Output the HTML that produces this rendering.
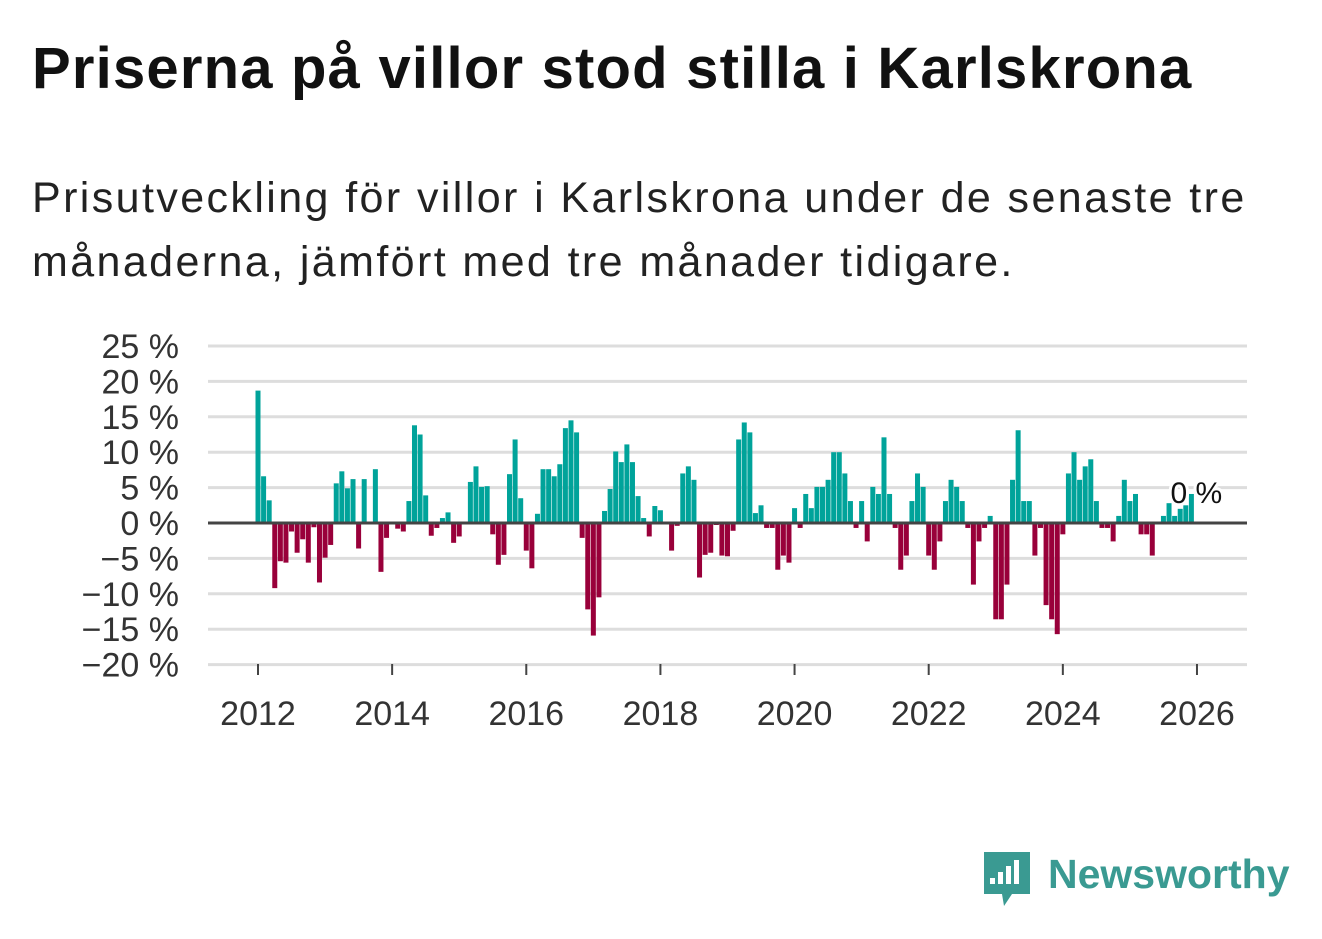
<!DOCTYPE html>
<html><head><meta charset="utf-8"><style>
body{margin:0;background:#fff;width:1322px;height:939px;overflow:hidden;font-family:"Liberation Sans",sans-serif}
#title{position:absolute;left:32px;top:40px;font-size:58px;line-height:58px;font-weight:bold;color:#111;margin:0;letter-spacing:1.2px;white-space:nowrap}
#sub{position:absolute;left:32px;top:166px;font-size:43px;line-height:64px;color:#222;margin:0;letter-spacing:2.4px;white-space:nowrap}
svg{position:absolute;left:0;top:0}
</style></head><body>
<h1 id="title">Priserna på villor stod stilla i Karlskrona</h1>
<p id="sub">Prisutveckling för villor i Karlskrona under de senaste tre<br>månaderna, jämfört med tre månader tidigare.</p>
<svg id="chart" width="1322" height="939"></svg>
<script>
const startYear = 2012;
const values = [18.7,6.6,3.2,-9.2,-5.4,-5.6,-1.2,-4.2,-2.3,-5.6,-0.6,-8.4,-4.9,-3.1,5.6,7.3,4.9,6.2,-3.6,6.2,0,7.6,-6.9,-2.1,
0,-0.8,-1.2,3.1,13.8,12.5,3.9,-1.8,-0.7,0.7,1.5,-2.8,-1.9,0,5.8,8.0,5.1,5.2,-1.6,-5.9,-4.5,6.9,11.8,3.5,
-3.9,-6.4,1.3,7.6,7.6,6.6,8.3,13.4,14.5,12.8,-2.1,-12.2,-15.9,-10.5,1.7,4.8,10.1,8.6,11.1,8.6,3.8,0.7,-1.9,2.4,
1.8,0,-3.9,-0.4,7.0,8.0,6.1,-7.7,-4.5,-4.2,-0.1,-4.6,-4.7,-1.1,11.8,14.2,12.8,1.4,2.5,-0.7,-0.7,-6.6,-4.6,-5.6,
2.1,-0.7,4.1,2.1,5.1,5.1,6.1,10.0,10.0,7.0,3.1,-0.7,3.1,-2.6,5.1,4.1,12.1,4.1,-0.7,-6.6,-4.6,3.1,7.0,5.1,
-4.6,-6.6,-2.6,3.1,6.1,5.1,3.1,-0.7,-8.7,-2.6,-0.7,1.0,-13.6,-13.6,-8.7,6.1,13.1,3.1,3.1,-4.6,-0.7,-11.6,-13.6,-15.7,
-1.6,7.0,10.0,6.1,8.0,9.0,3.1,-0.7,-0.7,-2.6,1.0,6.1,3.1,4.1,-1.6,-1.6,-4.6,0,1.0,2.8,1.0,2.0,2.5,4.1];
const yTicks = [25,20,15,10,5,0,-5,-10,-15,-20];
const xTicks = [2012,2014,2016,2018,2020,2022,2024,2026];
const lastLabel = "0 %";

const NS="http://www.w3.org/2000/svg";
const svg=document.getElementById('chart');
const X0=258, PX_YEAR=67.07, Y0=523, PX_PCT=7.08, L=208, R=1247;
function xs(monthIndex){return X0+monthIndex*PX_YEAR/12;}
function xy(year){return X0+(year-startYear)*PX_YEAR;}
function ys(v){return Y0-v*PX_PCT;}
function mk(tag,attrs){const e=document.createElementNS(NS,tag);for(const k in attrs)e.setAttribute(k,attrs[k]);svg.appendChild(e);return e;}

yTicks.forEach(t=>{
  const g=mk('line',{x1:L,x2:R,y1:ys(t),y2:ys(t),stroke:t===0?'#444':'#ddd','stroke-width':3});
  
  
  const tx=mk('text',{x:179,y:ys(t)+12,'text-anchor':'end','font-size':34,fill:'#333','font-family':'Liberation Sans, sans-serif'});
  tx.textContent=(t<0?'\u2212'+(-t):t)+' %';
  
  
});
xTicks.forEach(t=>{
  const tk=mk('line',{x1:xy(t),x2:xy(t),y1:Y0+141,y2:Y0+152,stroke:'#444','stroke-width':2});
  
  
  const tx=mk('text',{x:xy(t),y:725,'text-anchor':'middle','font-size':34,fill:'#333','font-family':'Liberation Sans, sans-serif'});
  tx.textContent=t;
  
  
});
values.forEach((v,i)=>{
  if(v===0)return;
  const x=xs(i)-2.5;
  const y=v>0?ys(v):Y0+1.5;
  const h=v>0?Y0-1.5-ys(v):ys(v)-Y0-1.5;
  const b=mk('rect',{x:x,y:y,width:5,height:Math.max(h,0.5),fill:v>0?'#00a39a':'#99003a'});
  
  
});
const lab=mk('text',{x:xs(values.length-1)+5,y:503,'text-anchor':'middle','font-size':30,fill:'#111',stroke:'#fff','stroke-width':6,'paint-order':'stroke','font-family':'Liberation Sans, sans-serif'});
lab.textContent=lastLabel;


const lg=mk('g',{});


const ic=mk('path',{d:'M984 852 h46 v42 h-18 l-8 12 l-2 -12 h-18 z',fill:'#3a9a92'});


[[990,878,6],[998,872,12],[1006,866,18],[1014,860,24]].forEach(a=>{const r=mk('rect',{x:a[0],y:a[1],width:5,height:a[2],fill:'#fff'});});
const lt=mk('text',{x:1048,y:888,'font-size':41,'font-weight':'bold',fill:'#3a9a92','font-family':'Liberation Sans, sans-serif'});
lt.textContent='Newsworthy';


</script>
</body></html>
